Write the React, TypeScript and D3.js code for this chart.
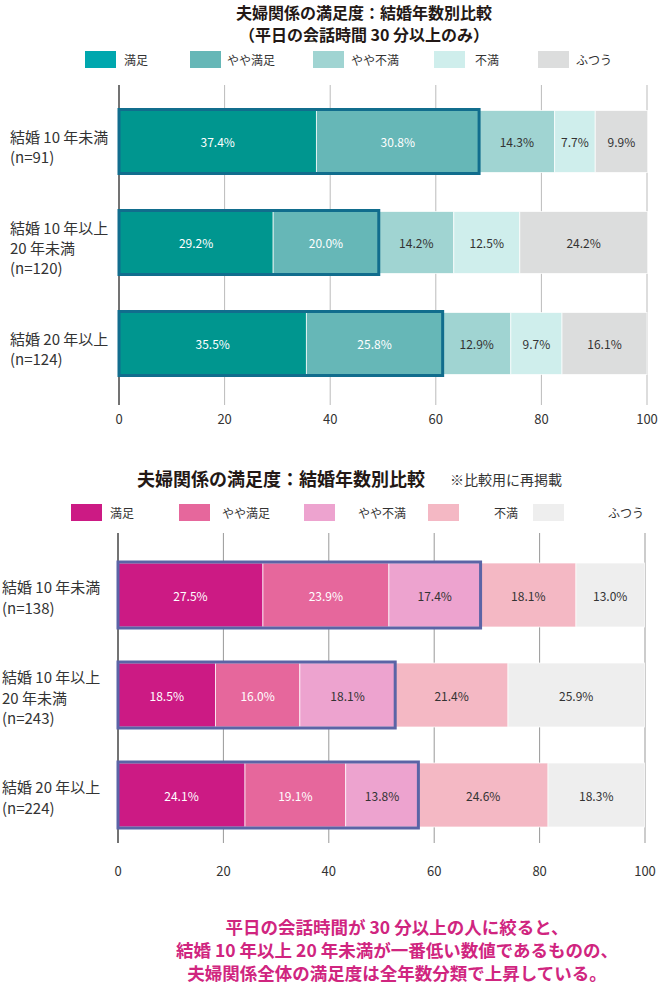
import React from "react";
import * as d3 from "d3";

const categoryLabelsTop = [["結婚 10 年未満", "(n=91)"], ["結婚 10 年以上", "20 年未満", "(n=120)"], ["結婚 20 年以上", "(n=124)"]];
const categoryLabelsBottom = [["結婚 10 年未満", "(n=138)"], ["結婚 10 年以上", "20 年未満", "(n=243)"], ["結婚 20 年以上", "(n=224)"]];
const seriesNames = ["満足", "やや満足", "やや不満", "不満", "ふつう"];
const topValues = [
  [37.4, 30.8, 14.3, 7.7, 9.9],
  [29.2, 20.0, 14.2, 12.5, 24.2],
  [35.5, 25.8, 12.9, 9.7, 16.1],
];
const bottomValues = [
  [27.5, 23.9, 17.4, 18.1, 13.0],
  [18.5, 16.0, 18.1, 21.4, 25.9],
  [24.1, 19.1, 13.8, 24.6, 18.3],
];
const tickValues = [0, 20, 40, 60, 80, 100];

const topColors = ["#00968f", "#66b7b7", "#a0d4d2", "#cfeeec", "#dcdddd"];
const topLegendColors = ["#00a7ae", "#66b7b7", "#a0d4d2", "#cfeeec", "#dcdddd"];
const bottomColors = ["#cc1a84", "#e6679c", "#eda3cf", "#f4b8c4", "#eeeeee"];

const FONT = "'Noto Sans CJK JP', 'Noto Sans', sans-serif";

type ChartProps = {
  values: number[][];
  labels: string[][];
  colors: string[];
  legendColors: string[];
  x0: number;
  x1: number;
  yFirst: number;
  yLast: number;
  barH: number;
  gridTop: number;
  gridBottom: number;
  tickY: number;
  outlineN: number;
  outlineColor: string;
  whiteN: number;
  labelX: number;
  lineGap: number;
  blockOffset: number;
  legendY: number;
  legendSwatchX: number[];
  legendLabelX: number[];
  otherGridColor: string;
};

function Chart(p: ChartProps) {
  const x = d3.scaleLinear().domain([0, 100]).range([p.x0, p.x1]);
  const y = d3.scalePoint<number>().domain(d3.range(p.values.length)).range([p.yFirst, p.yLast]);
  return (
    <g>
      {seriesNames.map((n, i) => (
        <g key={"lg" + i}>
          <rect x={p.legendSwatchX[i]} y={p.legendY - 8} width={31} height={17} fill={p.legendColors[i]} />
          <text x={p.legendLabelX[i]} y={p.legendY} dominantBaseline="central" fontSize={12} fill="#333" fontFamily={FONT}>{n}</text>
        </g>
      ))}
      {tickValues.map((t) => (
        <g key={"t" + t}>
          <line x1={x(t)} x2={x(t)} y1={p.gridTop} y2={p.gridBottom} stroke={t === 0 ? "#444" : p.otherGridColor} strokeWidth={t === 0 ? 1.5 : 1} />
          <text x={x(t)} y={p.tickY} textAnchor="middle" dominantBaseline="central" fontSize={13} fill="#333" fontFamily={FONT}>{t}</text>
        </g>
      ))}
      {p.values.map((row, ri) => {
        const cy = y(ri) as number;
        const top = cy - p.barH / 2;
        const cum = d3.cumsum(row);
        const starts = [0, ...Array.from(cum).slice(0, -1)];
        const outlineEnd = cum[p.outlineN - 1];
        const lines = p.labels[ri];
        const firstLine = cy + p.blockOffset - ((lines.length - 1) * p.lineGap) / 2;
        return (
          <g key={"r" + ri}>
            {row.map((v, si) => (
              <rect key={si} x={x(starts[si])} y={top} width={x(starts[si] + v) - x(starts[si])} height={p.barH} fill={p.colors[si]} stroke="#ffffff" strokeOpacity={0.7} strokeWidth={1} />
            ))}
            <rect x={x(0)} y={top - 1} width={x(outlineEnd) - x(0)} height={p.barH + 2} fill="none" stroke={p.outlineColor} strokeWidth={3} />
            {row.map((v, si) => (
              <text key={"v" + si} x={x(starts[si] + v / 2)} y={cy} textAnchor="middle" dominantBaseline="central" fontSize={12} fill={si < p.whiteN ? "#ffffff" : "#333333"} fontFamily={FONT}>{v.toFixed(1)}%</text>
            ))}
            {lines.map((l, li) => (
              <text key={"l" + li} x={p.labelX} y={firstLine + li * p.lineGap} dominantBaseline="central" fontSize={15} fill="#333" fontFamily={FONT}>{l}</text>
            ))}
          </g>
        );
      })}
    </g>
  );
}

export default function App() {
  return (
    <svg width={659} height={988} style={{ position: "absolute", left: 0, top: 0, background: "#fff" }}>
      <text x={364} y={11.5} textAnchor="middle" dominantBaseline="central" fontSize={16} fontWeight="bold" fill="#231815" fontFamily={FONT}>夫婦関係の満足度：結婚年数別比較</text>
      <text x={364} y={33.5} textAnchor="middle" dominantBaseline="central" fontSize={16} fontWeight="bold" fill="#231815" fontFamily={FONT}>（平日の会話時間 30 分以上のみ）</text>
      <Chart
        values={topValues}
        labels={categoryLabelsTop}
        colors={topColors}
        legendColors={topLegendColors}
        x0={119}
        x1={647}
        yFirst={141.5}
        yLast={343.5}
        barH={62}
        gridTop={85}
        gridBottom={405}
        tickY={418}
        outlineN={2}
        outlineColor="#116d8d"
        whiteN={2}
        labelX={10}
        lineGap={20}
        blockOffset={5}
        legendY={59}
        legendSwatchX={[85, 190, 313, 434, 538]}
        legendLabelX={[124, 227, 351, 475, 576]}
        otherGridColor="#bbbbbb"
      />
      <text x={137} y={478} dominantBaseline="central" fontSize={18} fontWeight="bold" fill="#231815" fontFamily={FONT}>夫婦関係の満足度：結婚年数別比較</text>
      <text x={450} y={479} dominantBaseline="central" fontSize={14} fill="#333" fontFamily={FONT}>※比較用に再掲載</text>
      <Chart
        values={bottomValues}
        labels={categoryLabelsBottom}
        colors={bottomColors}
        legendColors={bottomColors}
        x0={118}
        x1={645}
        yFirst={595}
        yLast={795}
        barH={64}
        gridTop={533}
        gridBottom={843}
        tickY={870}
        outlineN={3}
        outlineColor="#5b64a6"
        whiteN={2}
        labelX={2}
        lineGap={20.5}
        blockOffset={2}
        legendY={512}
        legendSwatchX={[71, 179, 304, 428, 533]}
        legendLabelX={[110, 222, 358, 494, 608]}
        otherGridColor="#999999"
      />
      {["平日の会話時間が 30 分以上の人に絞ると、", "結婚 10 年以上 20 年未満が一番低い数値であるものの、", "夫婦関係全体の満足度は全年数分類で上昇している。"].map((t, i) => (
        <text key={i} x={397} y={926 + i * 23} textAnchor="middle" dominantBaseline="central" fontSize={17.5} fontWeight="bold" fill="#d0257f" fontFamily={FONT}>{t}</text>
      ))}
    </svg>
  );
}
